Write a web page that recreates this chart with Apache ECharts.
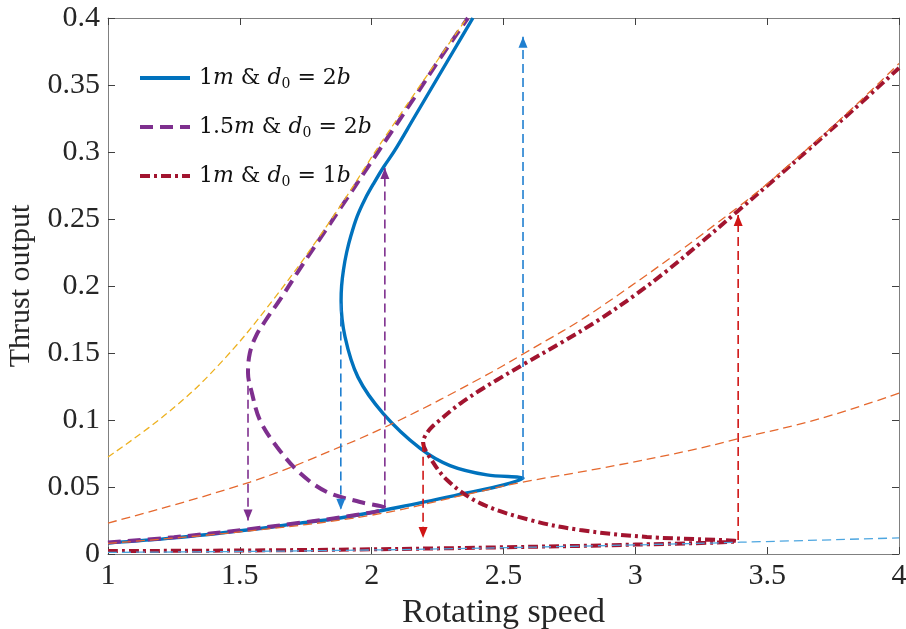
<!DOCTYPE html>
<html><head><meta charset="utf-8">
<script src="https://cdn.jsdelivr.net/npm/echarts@6/dist/echarts.min.js"></script>
<style>html,body{margin:0;padding:0;background:#fff}#c{width:906px;height:629px}</style>
</head><body><div id="c"></div>
<script>
// ---- data ----
const xMin = 1, xMax = 4, xStep = 0.5;
const yMin = 0, yMax = 0.4, yStep = 0.05;
const legendNames = ['1m & d0 = 2b', '1.5m & d0 = 2b', '1m & d0 = 1b'];

// 1m & d0 = 2b  (solid blue, S-shaped response)
const blueCurve = [
  [1.0,0.0082],[1.25,0.012],[1.527,0.0179],[1.728,0.023],[1.88,0.0269],[2.107,0.0351],
  [2.361,0.0455],[2.50,0.0515],[2.574,0.0565],
  [2.437,0.059],[2.297,0.066],[2.183,0.079],[2.043,0.105],[1.948,0.132],[1.899,0.162],[1.884,0.189],
  [1.886,0.200],[1.893,0.212],[1.905,0.225],[1.922,0.238],[1.945,0.252],[1.975,0.265],[2.009,0.277],
  [2.046,0.289],[2.087,0.301],[2.159,0.325],[2.234,0.35],[2.309,0.375],[2.384,0.400]
];
// 1.5m & d0 = 2b  (dashed purple)
const purpleCurve = [
  [1.0,0.0086],[1.25,0.0125],[1.527,0.0183],[1.728,0.0233],[1.88,0.0273],[2.050,0.0343],
  [1.956,0.0388],[1.830,0.0463],[1.728,0.0604],[1.641,0.0799],[1.576,0.100],[1.546,0.120],[1.531,0.135],
  [1.538,0.150],[1.562,0.163],[1.60,0.175],[1.653,0.19],[1.735,0.215],[1.82,0.24],[1.905,0.265],
  [1.99,0.29],[2.075,0.315],[2.16,0.34],[2.26,0.37],[2.365,0.400]
];
// 1m & d0 = 1b  (dash-dot dark red)
const redCurve = [
  [1.0,0.0022],[1.5,0.0026],[2.0,0.0035],[2.5,0.0050],[3.0,0.0070],[3.385,0.0096],
  [3.044,0.0127],[2.790,0.0179],[2.600,0.0254],[2.411,0.038],[2.286,0.0552],[2.210,0.0754],[2.195,0.0835],
  [2.210,0.0903],[2.232,0.0955],[2.259,0.100],[2.301,0.107],[2.346,0.1137],[2.411,0.1222],[2.475,0.1299],
  [2.581,0.1421],[2.72,0.1578],[2.866,0.1753],[3.0,0.1934],[3.12,0.2114],[3.25,0.2326],[3.389,0.256],
  [3.522,0.2786],[3.651,0.3008],[3.825,0.3312],[4.0,0.3627]
];
// thin dashed reference curves
const yellowCurve = [
  [1.0,0.0724],[1.224,0.105],[1.413,0.1396],[1.626,0.1896],[1.853,0.2515],[2.043,0.309],[2.361,0.400]
];
const orangeUpper = [
  [1.0,0.0231],[1.539,0.0537],[1.880,0.0799],[2.107,0.100],[2.411,0.131],[2.581,0.150],
  [2.866,0.184],[3.397,0.260],[3.651,0.302],[3.825,0.333],[4.0,0.366]
];
const orangeLower = [
  [1.0,0.0080],[1.5,0.0165],[2.0,0.0290],[2.35,0.0440],[2.57,0.0535],[2.87,0.0640],
  [3.2,0.0770],[3.4,0.0865],[3.7,0.1010],[4.0,0.1200]
];
const lightBlueLower = [
  [1.0,0.0012],[1.5,0.0019],[2.0,0.0030],[2.5,0.0047],[3.0,0.0068],[3.4,0.0088],[4.0,0.0120]
];
// jump arrows [start, tip]
const blueJumpUp     = [[2.574,0.056],[2.574,0.386]];
const blueJumpDown   = [[1.883,0.187],[1.883,0.033]];
const purpleJumpDown = [[1.531,0.136],[1.531,0.025]];
const purpleJumpUp   = [[2.050,0.034],[2.050,0.288]];
const redJumpDown    = [[2.195,0.083],[2.195,0.012]];
const redJumpUp      = [[3.390,0.0104],[3.390,0.253]];

// ---- chart ----
const FONT = 'Liberation Serif';
const MATH = 'DejaVu Serif';
const C_BLUE = '#0072BD', C_PURPLE = '#7E2F8E', C_RED = '#A2142F';

function curve(name, data, color, width, dash, z) {
  return { name, type:'line', data, symbol:'none', smooth:0.35, smoothMonotone:null,
    lineStyle:{color, width, type:dash, cap:'butt'}, itemStyle:{color}, z, silent:true };
}
function thin(data, color, dash) {
  return { type:'line', data, symbol:'none', smooth:0.4,
    lineStyle:{color, width:1.3, type:dash}, z:6, silent:true };
}
function arrow(pts, color) {
  const up = pts[1][1] > pts[0][1];
  return { type:'line', silent:true, z:7, showSymbol:true, showAllSymbol:true,
    symbol:'triangle', symbolSize:[9,11],
    lineStyle:{color, width:1.6, type:[9,5]}, itemStyle:{color},
    data:[ {value:pts[0], symbol:'none'},
           {value:pts[1], symbol:'triangle', symbolRotate: up?0:180, symbolOffset:[0, up?5.5:-5.5]} ] };
}

const rich = {
  n:{fontFamily:MATH, fontSize:22, color:'#111'},
  i:{fontFamily:MATH, fontSize:22, fontStyle:'italic', color:'#111'},
  s:{fontFamily:MATH, fontSize:14, color:'#111', padding:[12,0,0,0]}
};
function legendText(name){
  const m = name.match(/^([\d.]+)m & d0 = (\d)b$/);
  return '{n|' + m[1] + '}{i|m}{n| & }{i|d}{s|0}{n| = ' + m[2] + '}{i|b}';
}

const axisCommon = {
  axisLine:{show:true, onZero:false, lineStyle:{color:'#808080', width:1}},
  axisTick:{show:true, inside:true, length:7, lineStyle:{color:'#404040', width:1}},
  splitLine:{show:false}
};

const chart = echarts.init(document.getElementById('c'), null, {renderer:'canvas'});
chart.setOption({
  animation:false,
  backgroundColor:'#fff',
  grid:{left:108, right:7, top:18, bottom:75, containLabel:false, outerBoundsMode:'none'},
  legend:{
    show:true, orient:'vertical', left:133, top:62, itemWidth:50, itemHeight:14, itemGap:25,
    data: legendNames, formatter: legendText, textStyle:{rich, padding:[0,0,0,4]},
    itemStyle:{opacity:0}, lineStyle:{width:4},
    selectedMode:false
  },
  xAxis:[
    Object.assign({type:'value', min:xMin, max:xMax, interval:xStep, position:'bottom',
      axisLabel:{color:'#262626', fontFamily:FONT, fontSize:30, margin:7},
      name:'Rotating speed', nameLocation:'middle', nameGap:33,
      nameTextStyle:{fontFamily:FONT, fontSize:34, color:'#262626'}}, axisCommon),
    Object.assign({type:'value', min:xMin, max:xMax, interval:xStep, position:'top',
      axisLabel:{show:false}}, axisCommon)
  ],
  yAxis:[
    Object.assign({type:'value', min:yMin, max:yMax, interval:yStep, position:'left',
      axisLabel:{color:'#262626', fontFamily:FONT, fontSize:30, margin:8},
      name:'Thrust output', nameLocation:'middle', nameGap:62,
      nameTextStyle:{fontFamily:FONT, fontSize:30, color:'#262626'}}, axisCommon),
    Object.assign({type:'value', min:yMin, max:yMax, interval:yStep, position:'right',
      axisLabel:{show:false}}, axisCommon)
  ],
  series:[
    curve(legendNames[0], blueCurve, C_BLUE, 3.4, 'solid', 3),
    curve(legendNames[1], purpleCurve, C_PURPLE, 4, [13,7], 4),
    curve(legendNames[2], redCurve, C_RED, 4, [10,4,3,4], 5),
    thin(yellowCurve, '#EDB120', [7,4]),
    thin(orangeUpper, '#E5682E', [9,5]),
    thin(orangeLower, '#E5682E', [9,5]),
    thin(lightBlueLower, '#4DA6E0', [9,5]),
    arrow(blueJumpUp, '#1F7FD0'),
    arrow(blueJumpDown, '#1F7FD0'),
    arrow(purpleJumpDown, C_PURPLE),
    arrow(purpleJumpUp, C_PURPLE),
    arrow(redJumpDown, '#D01515'),
    arrow(redJumpUp, '#D01515')
  ]
});
</script></body></html>
